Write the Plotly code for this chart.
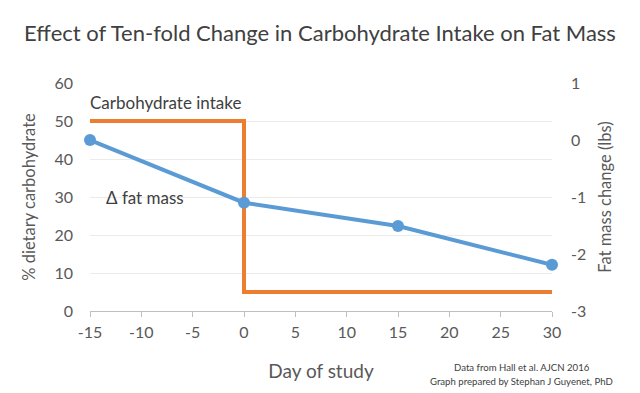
import plotly.graph_objects as go

carb_days = [-15, 0, 0, 30]
carb_pct = [50, 50, 5, 5]
fat_days = [-15, 0, 15, 30]
fat_change = [0, -1.1, -1.51, -2.19]
x_ticks = [-15, -10, -5, 0, 5, 10, 15, 20, 25, 30]
y_left_ticks = [0, 10, 20, 30, 40, 50, 60]
y_right_ticks = [-3, -2, -1, 0, 1]

FONT = "Lato"
TXT = "#595959"

def lab(vals):
    return [str(v) for v in vals]

fig = go.Figure()
fig.add_trace(go.Scatter(x=carb_days, y=carb_pct, mode="lines",
                         line=dict(color="#ED7D31", width=4), cliponaxis=False,
                         showlegend=False))
fig.add_trace(go.Scatter(x=fat_days, y=fat_change, mode="lines+markers", yaxis="y2",
                         line=dict(color="#5B9BD5", width=4),
                         marker=dict(size=12, color="#5B9BD5"), cliponaxis=False,
                         showlegend=False))

# page body has an 8px margin, so the figure is 632x385 drawn at (8, 8)
fig.update_layout(
    width=632, height=385,
    margin=dict(l=82, r=88, t=75, b=82),
    paper_bgcolor="white", plot_bgcolor="white",
    font=dict(family=FONT, color=TXT),
    title=dict(text="Effect of Ten-fold Change in Carbohydrate Intake on Fat Mass",
               x=(320 - 8) / 632, xanchor="center", y=1 - 25 / 385, yanchor="middle",
               font=dict(size=22, color="#404040", family=FONT)),
    xaxis=dict(range=[-15, 30], tickvals=x_ticks, ticktext=lab(x_ticks), showgrid=False,
               zeroline=False, automargin=False,
               showline=True, linecolor="#bfbfbf", linewidth=1,
               ticks="outside", ticklen=5, tickcolor="#bfbfbf", ticklabelstandoff=2,
               tickfont=dict(size=16, color=TXT),
               title=dict(text="Day of study", font=dict(size=19, color=TXT), standoff=24)),
    yaxis=dict(range=[0, 60], tickvals=y_left_ticks, ticktext=lab(y_left_ticks),
               showgrid=True, gridcolor="#ebebeb", automargin=False,
               zeroline=False, showline=False, ticks="", ticklabelstandoff=16,
               tickfont=dict(size=16, color=TXT),
               title=dict(text="% dietary carbohydrate", font=dict(size=16.5, color=TXT), standoff=14)),
    yaxis2=dict(range=[-3, 1], tickvals=y_right_ticks, ticktext=lab(y_right_ticks),
                overlaying="y", side="right", automargin=False,
                showgrid=False, zeroline=False, showline=False, ticks="", ticklabelstandoff=18,
                tickfont=dict(size=16, color=TXT),
                title=dict(text="Fat mass change (lbs)", font=dict(size=16.5, color=TXT), standoff=14)),
)

fig.add_annotation(text="Carbohydrate intake", xref="paper", yref="paper", x=-0.005, y=(311 - 102) / 228,
                   xanchor="left", yanchor="middle", showarrow=False,
                   font=dict(size=17, color="#404040"))
fig.add_annotation(text="Δ fat mass", xref="paper", yref="paper", x=0.03, y=(311 - 197) / 228,
                   xanchor="left", yanchor="middle", showarrow=False,
                   font=dict(size=17, color="#404040"))
fig.add_annotation(text="Data from Hall et al. AJCN 2016",
                   xref="paper", yref="paper", x=0.935, y=(311 - 367) / 228, xanchor="center",
                   yanchor="middle", showarrow=False, font=dict(size=9.6, color="#404040"))
fig.add_annotation(text="Graph prepared by Stephan J Guyenet, PhD",
                   xref="paper", yref="paper", x=0.935, y=(311 - 381) / 228, xanchor="center",
                   yanchor="middle", showarrow=False, font=dict(size=9.6, color="#404040"))

fig.write_html("out.html")
